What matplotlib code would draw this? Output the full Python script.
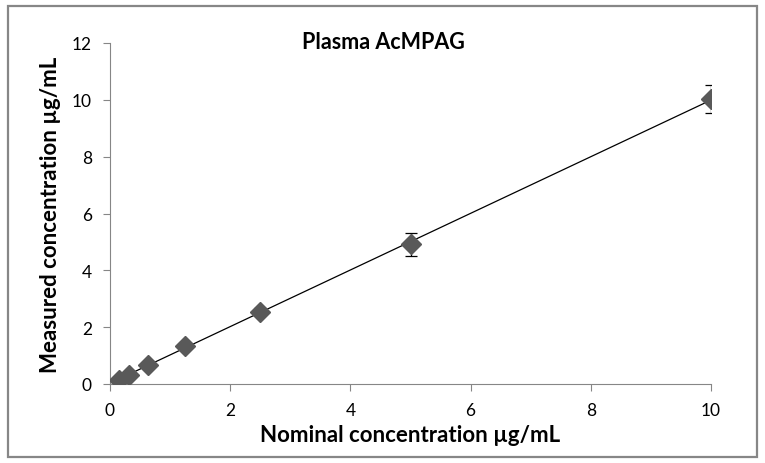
import matplotlib.pyplot as plt
import numpy as np

plt.rcParams['font.family'] = ['Lato', 'DejaVu Sans']

nominal = [0.156, 0.3125, 0.625, 1.25, 2.5, 5, 10]
measured = [0.15, 0.32, 0.66, 1.34, 2.55, 4.92, 10.02]
sd = [0.03, 0.04, 0.05, 0.08, 0.12, 0.40, 0.50]

fig = plt.figure(figsize=(7.65, 4.64), dpi=100)
# grey frame round the chart
fig.patches.append(plt.Rectangle((7.5 / 765, 6 / 464), 749 / 765, 451 / 464, transform=fig.transFigure,
                                 fill=False, edgecolor="#878787", linewidth=1.6))
ax = fig.add_axes([110 / 765, 79 / 464, 601 / 765, 341 / 464])

# linear trendline
k, b = np.polyfit(nominal, measured, 1)
xx = np.array([min(nominal), max(nominal)])
ax.plot(xx, k * xx + b, color="black", linewidth=0.9, zorder=2)

ax.errorbar(nominal, measured, yerr=sd, fmt="D", color="#595959", markersize=10,
            ecolor="black", elinewidth=0.9, capsize=4, capthick=0.9, zorder=3)

ax.set_xlim(0, 10)
ax.set_ylim(0, 12)
ax.set_xticks([0, 2, 4, 6, 8, 10])
ax.set_yticks([0, 2, 4, 6, 8, 10, 12])
for s in ["top", "right"]:
    ax.spines[s].set_visible(False)
for s in ["left", "bottom"]:
    ax.spines[s].set_color("#868686")
ax.tick_params(colors="#868686", labelcolor="black", labelsize=12.5, length=5,
               direction="out", pad=8)

ax.set_xlabel("Nominal concentration µg/mL", fontsize=16, fontweight="bold", labelpad=4)
ax.set_ylabel("Measured concentration µg/mL", fontsize=16, fontweight="bold", labelpad=8)
ax.text(0.455, 1.005, "Plasma AcMPAG", transform=ax.transAxes, ha="center", va="center",
        fontsize=15.5, fontweight="bold")

fig.savefig("out.png", dpi=100)
